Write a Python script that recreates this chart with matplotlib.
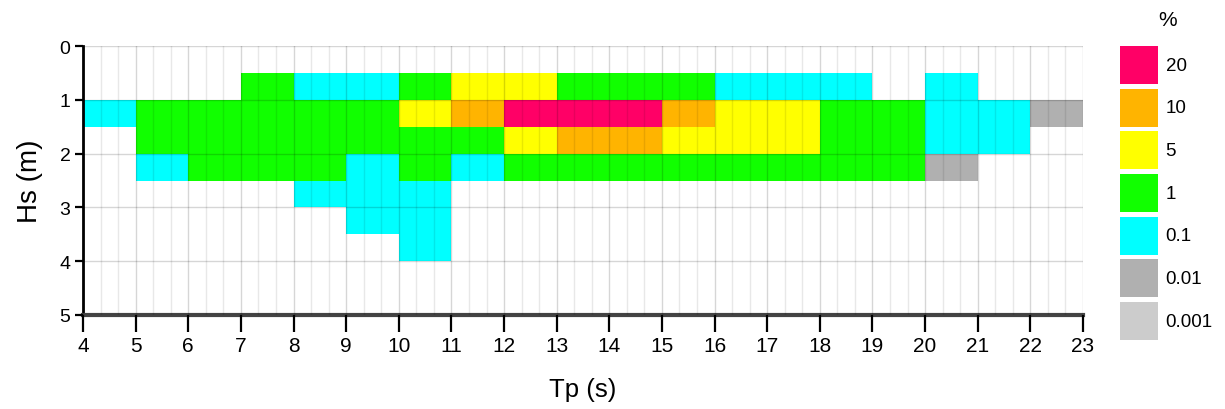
import numpy as np
import matplotlib.pyplot as plt
from matplotlib.colors import ListedColormap, BoundaryNorm

plt.rcParams['font.family'] = ['Liberation Sans', 'DejaVu Sans']

# class limits shown in the legend (%), top to bottom
levels = ['20', '10', '5', '1', '0.1', '0.01', '0.001']
level_colors = ['#FF0066', '#FFB400', '#FFFF00', '#11FF00', '#00FFFF', '#B0B0B0', '#CCCCCC']

# bins
tp_edges = np.arange(4, 24, 1)          # 4..23
hs_edges = np.arange(0.5, 4.01, 0.5)    # 0.5..4.0

# occurrence class per cell (0 = no data), columns Tp 4..22
hs_05_10 = [0, 0, 0, 1, 0.1, 0.1, 1, 5, 5, 1, 1, 1, 0.1, 0.1, 0.1, 0, 0.1, 0, 0]
hs_10_15 = [0.1, 1, 1, 1, 1, 1, 5, 10, 20, 20, 20, 10, 5, 5, 1, 1, 0.1, 0.1, 0.01]
hs_15_20 = [0, 1, 1, 1, 1, 1, 1, 1, 5, 10, 10, 5, 5, 5, 1, 1, 0.1, 0.1, 0]
hs_20_25 = [0, 0.1, 1, 1, 1, 0.1, 1, 0.1, 1, 1, 1, 1, 1, 1, 1, 1, 0.01, 0, 0]
hs_25_30 = [0, 0, 0, 0, 0.1, 0.1, 0.1, 0, 0, 0, 0, 0, 0, 0, 0, 0, 0, 0, 0]
hs_30_35 = [0, 0, 0, 0, 0, 0.1, 0.1, 0, 0, 0, 0, 0, 0, 0, 0, 0, 0, 0, 0]
hs_35_40 = [0, 0, 0, 0, 0, 0, 0.1, 0, 0, 0, 0, 0, 0, 0, 0, 0, 0, 0, 0]

table = np.array([hs_05_10, hs_10_15, hs_15_20, hs_20_25, hs_25_30, hs_30_35, hs_35_40], dtype=float)
table = np.ma.masked_equal(table, 0)

cmap = ListedColormap(level_colors[::-1])
norm = BoundaryNorm([0.0005, 0.005, 0.05, 0.5, 3, 7, 15, 30], cmap.N)

fig = plt.figure(figsize=(12.25, 4.1), dpi=100)
ax = fig.add_axes([83 / 1225, 1 - 316 / 410, 1000 / 1225, 269 / 410])

ax.pcolormesh(tp_edges, hs_edges, table, cmap=cmap, norm=norm, zorder=1)

ax.set_xlim(4, 23)
ax.set_ylim(5, 0)
ax.set_xticks(range(4, 24))
ax.set_xticks(np.arange(4, 23.01, 1 / 3), minor=True)
ax.set_yticks(range(0, 6))
ax.grid(True, which='major', color='black', alpha=0.16, lw=1, zorder=3)
ax.grid(True, which='minor', axis='x', color='black', alpha=0.09, lw=1, zorder=3)
ax.set_axisbelow(False)

for s in ['top', 'right']:
    ax.spines[s].set_visible(False)
ax.spines['left'].set_linewidth(2)
ax.spines['bottom'].set_linewidth(3)
ax.spines['bottom'].set_color('#444444')

ax.tick_params(axis='x', which='major', length=12, width=1.6, direction='out', labelsize=15, pad=3)
ax.tick_params(axis='x', which='minor', length=0)
ax.tick_params(axis='y', length=6, width=1.6, labelsize=14, pad=3)

ax.set_xlabel('Tp (s)', fontsize=18.5, labelpad=16)
ax.set_ylabel('Hs (m)', fontsize=20, labelpad=12)

# legend boxes
lg = fig.add_axes([1120 / 1225, 1 - 341 / 410, 38 / 1225, 294 / 410])
lg.barh(range(len(levels)), [1] * len(levels), height=0.89, align='edge', color=level_colors)
lg.set_xlim(0, 1)
lg.set_ylim(len(levels) - 0.11, 0)
lg.axis('off')
for i, lab in enumerate(levels):
    lg.text(1.2, i + 0.45, lab, ha='left', va='center', fontsize=13.5, clip_on=False)
lg.text(1.26, -0.4, '%', ha='center', va='bottom', fontsize=15, clip_on=False)

fig.savefig('out.png', dpi=100)
